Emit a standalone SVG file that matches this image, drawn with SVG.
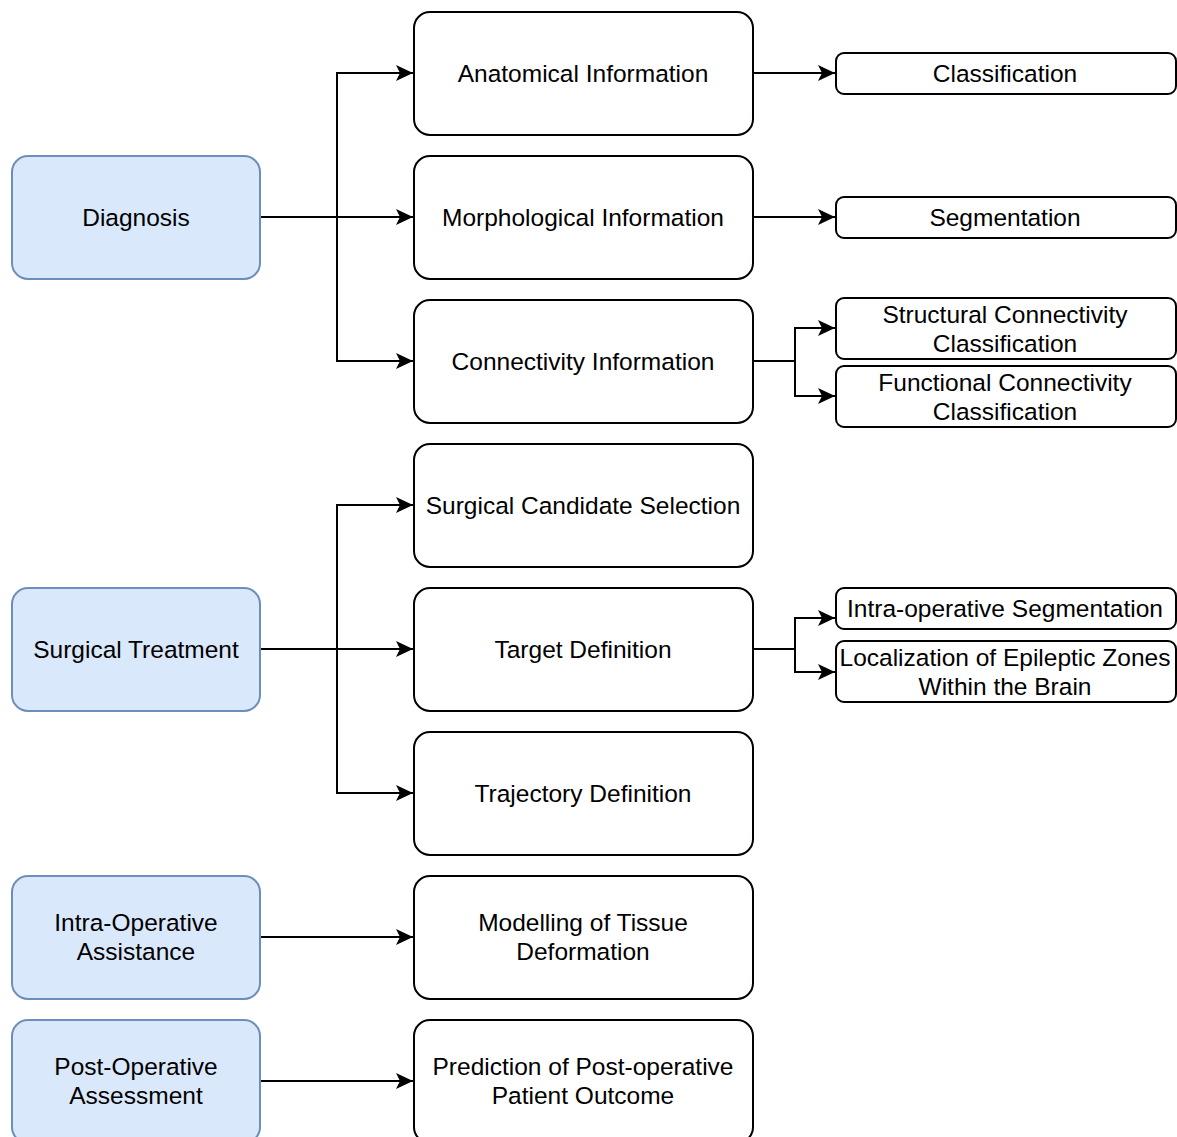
<svg xmlns="http://www.w3.org/2000/svg" width="1177" height="1137" viewBox="0 0 1177 1137">
<defs>
<style>
.l{fill:#dae8fc;stroke:#6c8ebf;stroke-width:2}
.m{fill:#fff;stroke:#000;stroke-width:2}
.r{fill:#fff;stroke:#000;stroke-width:2}
text{font-family:"Liberation Sans",Arial,sans-serif;font-size:24.5px;fill:#000;text-anchor:middle}
.c{fill:none;stroke:#000;stroke-width:2}
</style>
<marker id="a" markerWidth="18" markerHeight="18" refX="17" refY="8" orient="auto" markerUnits="userSpaceOnUse">
<path d="M0,0 L17,8 L0,16 L4,8 Z" fill="#000"/>
</marker>
</defs>
<rect width="1177" height="1137" fill="#fff"/>
<g id="connectors">
<path class="c" d="M260,217 H413" marker-end="url(#a)"/>
<path class="c" d="M337,217 V73 H413" marker-end="url(#a)"/>
<path class="c" d="M337,217 V361 H413" marker-end="url(#a)"/>
<path class="c" d="M753,73 H835" marker-end="url(#a)"/>
<path class="c" d="M753,217 H835" marker-end="url(#a)"/>
<path class="c" d="M753,361 H795 V328 H835" marker-end="url(#a)"/>
<path class="c" d="M795,361 V396 H835" marker-end="url(#a)"/>
<path class="c" d="M260,649 H413" marker-end="url(#a)"/>
<path class="c" d="M337,649 V505 H413" marker-end="url(#a)"/>
<path class="c" d="M337,649 V793 H413" marker-end="url(#a)"/>
<path class="c" d="M753,649 H795 V618 H835" marker-end="url(#a)"/>
<path class="c" d="M795,649 V672 H835" marker-end="url(#a)"/>
<path class="c" d="M260,937 H413" marker-end="url(#a)"/>
<path class="c" d="M260,1081 H413" marker-end="url(#a)"/>
</g>
<g id="diagnosis"><rect class="l" x="12" y="156" width="248" height="123" rx="16"/><text x="136" y="226">Diagnosis</text></g>
<g id="surgical"><rect class="l" x="12" y="588" width="248" height="123" rx="16"/><text x="136" y="658">Surgical Treatment</text></g>
<g id="intraop"><rect class="l" x="12" y="876" width="248" height="123" rx="16"/><text x="136" y="931">Intra-Operative</text><text x="136" y="960">Assistance</text></g>
<g id="postop"><rect class="l" x="12" y="1020" width="248" height="123" rx="16"/><text x="136" y="1075">Post-Operative</text><text x="136" y="1104">Assessment</text></g>
<g id="anatomical"><rect class="m" x="414" y="12" width="339" height="123" rx="16"/><text x="583" y="82">Anatomical Information</text></g>
<g id="morphological"><rect class="m" x="414" y="156" width="339" height="123" rx="16"/><text x="583" y="226">Morphological Information</text></g>
<g id="connectivity"><rect class="m" x="414" y="300" width="339" height="123" rx="16"/><text x="583" y="370">Connectivity Information</text></g>
<g id="candidate"><rect class="m" x="414" y="444" width="339" height="123" rx="16"/><text x="583" y="514">Surgical Candidate Selection</text></g>
<g id="target"><rect class="m" x="414" y="588" width="339" height="123" rx="16"/><text x="583" y="658">Target Definition</text></g>
<g id="trajectory"><rect class="m" x="414" y="732" width="339" height="123" rx="16"/><text x="583" y="802">Trajectory Definition</text></g>
<g id="tissue"><rect class="m" x="414" y="876" width="339" height="123" rx="16"/><text x="583" y="931">Modelling of Tissue</text><text x="583" y="960">Deformation</text></g>
<g id="prediction"><rect class="m" x="414" y="1020" width="339" height="123" rx="16"/><text x="583" y="1075">Prediction of Post-operative</text><text x="583" y="1104">Patient Outcome</text></g>
<g id="classification"><rect class="r" x="836" y="53" width="340" height="41" rx="8"/><text x="1005" y="82">Classification</text></g>
<g id="segmentation"><rect class="r" x="836" y="197" width="340" height="41" rx="8"/><text x="1005" y="226">Segmentation</text></g>
<g id="structural"><rect class="r" x="836" y="298" width="340" height="61" rx="8"/><text x="1005" y="323">Structural Connectivity</text><text x="1005" y="352">Classification</text></g>
<g id="functional"><rect class="r" x="836" y="366" width="340" height="61" rx="8"/><text x="1005" y="391">Functional Connectivity</text><text x="1005" y="420">Classification</text></g>
<g id="intraseg"><rect class="r" x="836" y="588" width="340" height="41" rx="8"/><text x="1005" y="617">Intra-operative Segmentation</text></g>
<g id="localization"><rect class="r" x="836" y="641" width="340" height="61" rx="8"/><text x="1005" y="666">Localization of Epileptic Zones</text><text x="1005" y="695">Within the Brain</text></g>
</svg>
